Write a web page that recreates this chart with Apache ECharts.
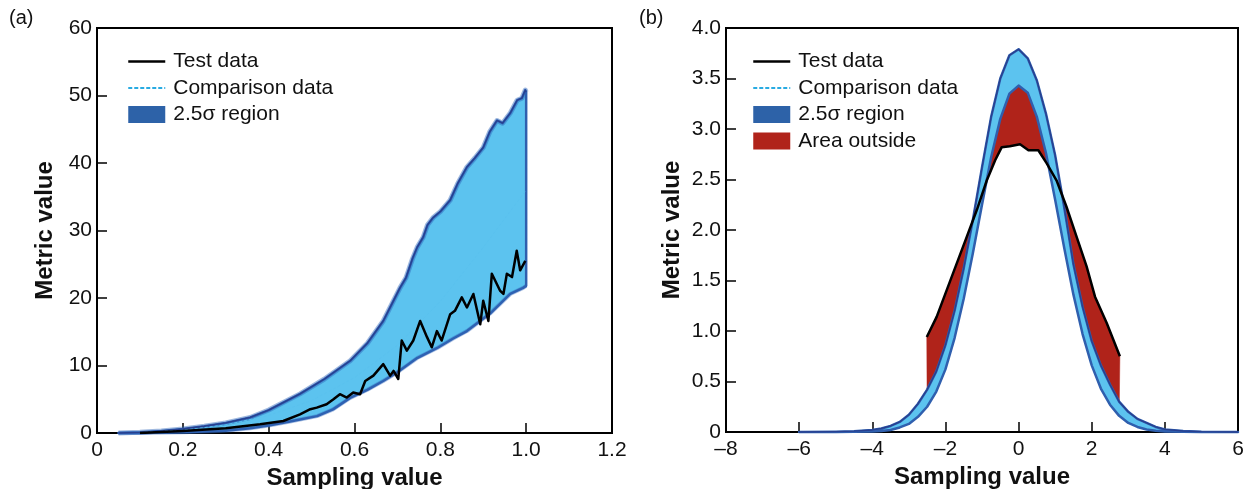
<!DOCTYPE html>
<html>
<head>
<meta charset="utf-8">
<script src="https://cdn.jsdelivr.net/npm/echarts@6/dist/echarts.min.js"></script>
<style>html,body{margin:0;padding:0;background:#fff;}#c{width:1252px;height:489px;}</style>
</head>
<body>
<div id="c"></div>
<script>
// ---------- Panel (a) data ----------
var aUpperX = [0.05,0.1,0.15,0.2,0.25,0.3,0.357,0.4,0.473,0.53,0.59,0.63,0.667,0.706,0.72,0.735,0.746,0.76,0.77,0.783,0.8,0.823,0.84,0.862,0.88,0.9,0.915,0.932,0.945,0.963,0.979,0.99,0.998,1.0];
var aUpperY = [0,0.1,0.3,0.6,1.0,1.5,2.3,3.4,5.8,8.0,10.7,13.3,16.6,21.5,23.0,25.8,27.5,29.0,30.8,31.9,32.8,34.5,36.9,39.4,40.7,42.3,44.6,46.3,45.9,47.4,49.3,49.6,50.8,50.5];
var aLowerX = [0.05,0.1,0.2,0.3,0.357,0.4,0.45,0.513,0.55,0.59,0.63,0.667,0.7,0.746,0.793,0.83,0.862,0.916,0.963,0.993,1.0];
var aLowerY = [0,0,0.1,0.35,0.7,1.1,1.7,2.5,3.5,5.2,6.4,7.7,9.0,11.1,12.6,14.0,15.1,17.7,20.6,21.5,21.8];
var aTestX = [0.1,0.2,0.3,0.38,0.434,0.473,0.497,0.512,0.535,0.551,0.566,0.582,0.597,0.613,0.625,0.644,0.667,0.683,0.691,0.702,0.71,0.722,0.737,0.753,0.769,0.78,0.792,0.803,0.823,0.834,0.85,0.862,0.877,0.893,0.9,0.912,0.92,0.939,0.947,0.955,0.967,0.978,0.986,0.998];
var aTestY = [0,0.3,0.7,1.29,1.78,2.77,3.52,3.76,4.26,5.0,5.75,5.25,6.0,5.75,7.7,8.5,10.2,8.5,9.2,8.0,13.7,12.2,13.7,16.6,14.2,12.7,15.1,13.7,17.6,18.1,20.1,18.6,20.6,16.1,19.6,16.6,23.6,21.1,20.6,23.6,23.1,27.0,24.1,25.5];
var aCompX = [0.1,0.2,0.3,0.4,0.5,0.6,0.7,0.8,0.9,1.0];
var aCompY = [0.05,0.4,1.2,2.6,4.8,8.2,13.0,19.5,27.5,36.0];
var aXTicks = ['0','0.2','0.4','0.6','0.8','1.0','1.2'];

// ---------- Panel (b) data ----------
var bBandX  = [-6,-5,-4.5,-4,-3.75,-3.5,-3.25,-3,-2.75,-2.5,-2.25,-2,-1.75,-1.5,-1.25,-1,-0.75,-0.5,-0.25,0,0.25,0.5,0.75,1,1.25,1.5,1.75,2,2.25,2.5,2.75,3,3.25,3.5,3.75,4,4.5,5,6];
var bUpperY = [0,0.003,0.008,0.02,0.035,0.06,0.1,0.17,0.28,0.42,0.6,0.86,1.2,1.62,2.1,2.62,3.12,3.5,3.73,3.79,3.70,3.48,3.15,2.74,2.22,1.66,1.24,0.9,0.66,0.47,0.3,0.2,0.13,0.09,0.05,0.025,0.01,0.003,0];
var bLowerY = [0,0,0.002,0.005,0.01,0.02,0.045,0.08,0.15,0.25,0.4,0.62,0.93,1.32,1.77,2.25,2.72,3.1,3.35,3.43,3.36,3.12,2.76,2.3,1.82,1.36,0.97,0.66,0.43,0.27,0.16,0.09,0.05,0.025,0.012,0.006,0.002,0,0];
var bTestX = [-2.51,-2.24,-1.96,-1.69,-1.42,-1.14,-0.87,-0.64,-0.46,-0.24,0.04,0.27,0.54,0.77,1.04,1.31,1.59,1.86,2.09,2.41,2.77];
var bTestY = [0.94,1.14,1.41,1.67,1.93,2.2,2.49,2.69,2.82,2.83,2.85,2.79,2.79,2.66,2.49,2.23,1.93,1.64,1.34,1.08,0.75];

var names = {test:'Test data', comp:'Comparison data', band:'2.5\u03c3 region', out:'Area outside'};
var COL = {fill:'#5cc3ef', edge:'#2f5fae', dark:'#283f8f', legendBand:'#2d62a8', red:'#b0231a', comp:'#29abe2'};
var FONT = 'Liberation Sans, Arial, sans-serif';

function zip(xs, ys){ return xs.map(function(x,i){ return [x, ys[i]]; }); }

function bandRender(ux, uy, lx, ly, glow){
  return function(params, api){
    var pts = [], top = [], bot = [];
    for (var i = 0; i < ux.length; i++) { var p = api.coord([ux[i], uy[i]]); pts.push(p); top.push(p); }
    for (var j = lx.length - 1; j >= 0; j--) { var q = api.coord([lx[j], ly[j]]); pts.push(q); bot.push(q); }
    var kids = [];
    kids.push({type:'polygon', shape:{points:pts}, style:{fill:COL.fill, stroke:COL.edge, lineWidth:2.5, lineJoin:'round'}});
    if (glow) {
      kids.push({type:'polyline', shape:{points:top}, style:{fill:null, stroke:'rgba(45,100,185,0.45)', lineWidth:5, lineJoin:'round'}});
      kids.push({type:'polyline', shape:{points:bot}, style:{fill:null, stroke:'rgba(45,100,185,0.4)', lineWidth:4, lineJoin:'round'}});
    }
    kids.push({type:'polyline', shape:{points:top}, style:{fill:null, stroke:COL.dark, lineWidth:1.3, lineJoin:'round'}});
    return {type:'group', children:kids};
  };
}

function redRender(params, api){
  var pts = [];
  for (var i = 0; i < bTestX.length; i++) pts.push(api.coord([bTestX[i], bTestY[i]]));
  var x0 = bTestX[0] - 0.02, x1 = bTestX[bTestX.length-1] + 0.03;
  for (var j = bBandX.length - 1; j >= 0; j--) {
    if (bBandX[j] >= x0 && bBandX[j] <= x1) pts.push(api.coord([bBandX[j], bLowerY[j]]));
  }
  return {type:'polygon', shape:{points:pts}, style:{fill:COL.red, stroke:COL.red, lineWidth:0.5}};
}

var axisFont = {fontFamily:FONT, fontSize:21, color:'#111'};
var nameFont = {fontFamily:FONT, fontSize:24, fontWeight:'bold', color:'#111'};
function tick(){ return {show:true, inside:true, length:10, lineStyle:{color:'#000', width:1.5}}; }
function aline(){ return {show:true, onZero:false, lineStyle:{color:'#000', width:2}}; }
var legendText = {fontFamily:FONT, fontSize:21, color:'#111', padding:[0,0,0,3]};
var legTest = {name:names.test, itemStyle:{opacity:0}, lineStyle:{color:'#000', width:2.5}};
var legComp = {name:names.comp, itemStyle:{opacity:0}, lineStyle:{color:COL.comp, width:2.2, type:[4,2]}};

var chart = echarts.init(document.getElementById('c'), null, {renderer:'canvas'});
chart.setOption({
  animation:false,
  backgroundColor:'#fff',
  graphic:[
    {type:'text', left:9, top:8, style:{text:'(a)', font:'20px ' + FONT, fill:'#111'}},
    {type:'text', left:639, top:8, style:{text:'(b)', font:'20px ' + FONT, fill:'#111'}}
  ],
  grid:[
    {left:97, top:28, width:515, height:405, show:true, borderColor:'#000', borderWidth:2, backgroundColor:'transparent', containLabel:false, outerBoundsMode:'none'},
    {left:726, top:28, width:512, height:404, show:true, borderColor:'#000', borderWidth:2, backgroundColor:'transparent', containLabel:false, outerBoundsMode:'none'}
  ],
  xAxis:[
    {gridIndex:0, type:'value', min:0, max:1.2, interval:0.2, axisLine:aline(), axisTick:tick(), splitLine:{show:false},
     axisLabel:Object.assign({margin:7, formatter:function(v){ return aXTicks[Math.round(v/0.2)]; }}, axisFont),
     name:'Sampling value', nameLocation:'middle', nameGap:31, nameTextStyle:nameFont},
    {gridIndex:1, type:'value', min:-8, max:6, interval:2, axisLine:aline(), axisTick:tick(), splitLine:{show:false},
     axisLabel:Object.assign({margin:7, formatter:function(v){ return v < 0 ? '\u2013' + Math.abs(v) : String(v); }}, axisFont),
     name:'Sampling value', nameLocation:'middle', nameGap:31, nameTextStyle:nameFont}
  ],
  yAxis:[
    {gridIndex:0, type:'value', min:0, max:60, interval:10, axisLine:aline(), axisTick:tick(), splitLine:{show:false},
     axisLabel:Object.assign({margin:5}, axisFont),
     name:'Metric value', nameLocation:'middle', nameGap:40, nameTextStyle:nameFont},
    {gridIndex:1, type:'value', min:0, max:4, interval:0.5, axisLine:aline(), axisTick:tick(), splitLine:{show:false},
     axisLabel:Object.assign({margin:5, formatter:function(v){ return v === 0 ? '0' : v.toFixed(1); }}, axisFont),
     name:'Metric value', nameLocation:'middle', nameGap:42, nameTextStyle:nameFont}
  ],
  legend:[
    {left:122, top:46, orient:'vertical', itemWidth:37, itemHeight:17, itemGap:5.5, selectedMode:false,
     textStyle:legendText,
     data:[legTest, legComp, {name:names.band, icon:'rect'}]},
    {left:747, top:46, orient:'vertical', itemWidth:37, itemHeight:17, itemGap:5.5, selectedMode:false,
     textStyle:legendText,
     data:[legTest, legComp, {name:names.band, icon:'rect'}, {name:names.out, icon:'rect'}]}
  ],
  series:[
    // panel a
    {type:'custom', name:names.band, xAxisIndex:0, yAxisIndex:0, data:[[0,0]], z:3,
     itemStyle:{color:COL.legendBand}, renderItem:bandRender(aUpperX, aUpperY, aLowerX, aLowerY, true)},
    {type:'line', name:names.comp, xAxisIndex:0, yAxisIndex:0, data:zip(aCompX, aCompY), z:4, symbol:'none',
     itemStyle:{color:COL.comp}, lineStyle:{color:'#5ac1ee', width:1, type:[3,2]}},
    {type:'line', name:names.test, xAxisIndex:0, yAxisIndex:0, data:zip(aTestX, aTestY), z:5, symbol:'none',
     itemStyle:{color:'#000'}, lineStyle:{color:'#000', width:2.5, join:'round'}},
    // panel b
    {type:'custom', name:names.out, xAxisIndex:1, yAxisIndex:1, data:[[0,0]], z:2,
     itemStyle:{color:COL.red}, renderItem:redRender},
    {type:'custom', name:names.band, xAxisIndex:1, yAxisIndex:1, data:[[0,0]], z:3,
     itemStyle:{color:COL.legendBand}, renderItem:bandRender(bBandX, bUpperY, bBandX, bLowerY, false)},
    {type:'line', name:names.test, xAxisIndex:1, yAxisIndex:1, data:zip(bTestX, bTestY), z:5, symbol:'none',
     itemStyle:{color:'#000'}, lineStyle:{color:'#000', width:2.5, join:'round'}}
  ]
});
</script>
</body>
</html>
